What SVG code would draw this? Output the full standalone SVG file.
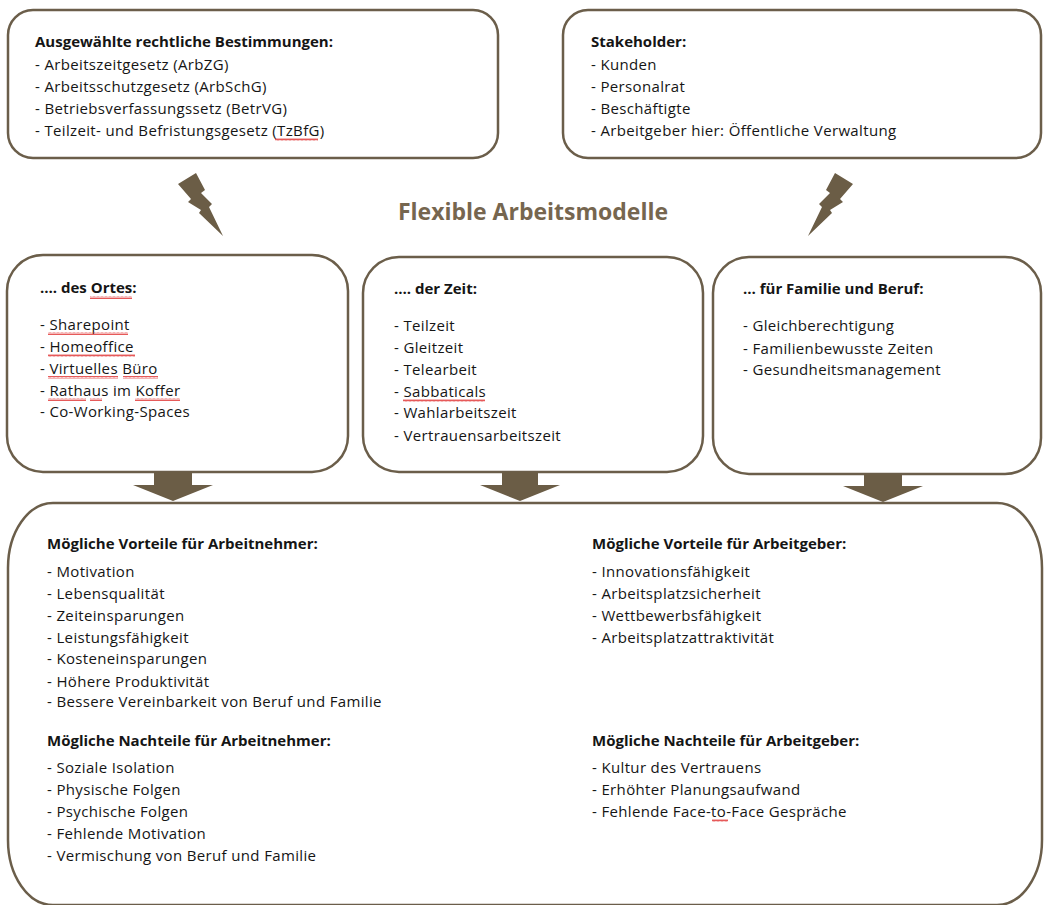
<svg xmlns="http://www.w3.org/2000/svg" width="1044" height="905" viewBox="0 0 1044 905">
<defs>
<style>
.box{fill:#fff;stroke:#6b5e4a;stroke-width:2.5}
.shape{fill:#6b5d46}
text{font-family:"Open Sans","Liberation Sans",sans-serif;font-size:15px;letter-spacing:0.35px;fill:#151515}
.h{font-weight:bold;letter-spacing:0}
.title{font-size:23px;font-weight:bold;letter-spacing:0;fill:#76664f}
.sq{fill:url(#squig)}
</style>
<pattern id="squig" x="0" y="0" width="4" height="3" patternUnits="userSpaceOnUse">
<polyline points="0,2.5 1,0.5 2,2.5 3,0.5 4,2.5" fill="none" stroke="#e03030" stroke-width="0.8"/>
</pattern>
<polygon id="bolt" points="178,184 196,173 205,190 201,193 212,204 209,207 223,236 199,213 201,210 188,202 191,199"/>
</defs>
<rect width="1044" height="905" fill="#fff"/>

<g id="legal">
<rect class="box" x="8" y="10" width="490" height="148" rx="25"/>
<text class="h" x="35" y="47">Ausgewählte rechtliche Bestimmungen:</text>
<text x="35" y="70">- Arbeitszeitgesetz (ArbZG)</text>
<text x="35" y="92">- Arbeitsschutzgesetz (ArbSchG)</text>
<text x="35" y="114">- Betriebsverfassungssetz (BetrVG)</text>
<text x="35" y="136">- Teilzeit- und Befristungsgesetz (TzBfG)</text>
<rect class="sq" x="275" y="138" width="43" height="3"/>
</g>

<g id="stakeholder">
<rect class="box" x="563" y="10" width="478" height="148" rx="25"/>
<text class="h" x="591" y="47">Stakeholder:</text>
<text x="591" y="70">- Kunden</text>
<text x="591" y="92">- Personalrat</text>
<text x="591" y="114">- Beschäftigte</text>
<text x="591" y="136">- Arbeitgeber hier: Öffentliche Verwaltung</text>
</g>

<g id="title">
<text class="title" x="533" y="220" text-anchor="middle">Flexible Arbeitsmodelle</text>
</g>

<g id="ort">
<rect class="box" x="7" y="255" width="341" height="217" rx="36"/>
<text class="h" x="40" y="293">…. des Ortes:</text>
<text x="40" y="330">- Sharepoint</text>
<text x="40" y="352">- Homeoffice</text>
<text x="40" y="374">- Virtuelles Büro</text>
<text x="40" y="396">- Rathaus im Koffer</text>
<text x="40" y="417">- Co-Working-Spaces</text>
<rect class="sq" x="90" y="296" width="42" height="3"/>
<rect class="sq" x="48" y="332" width="80" height="3"/>
<rect class="sq" x="48" y="354" width="87" height="3"/>
<rect class="sq" x="48" y="376" width="70" height="3"/>
<rect class="sq" x="123" y="376" width="35" height="3"/>
<rect class="sq" x="48" y="398" width="38" height="3"/>
<rect class="sq" x="90" y="398" width="12" height="3"/>
<rect class="sq" x="135" y="398" width="45" height="3"/>
</g>

<g id="zeit">
<rect class="box" x="363" y="257" width="340" height="215" rx="36"/>
<text class="h" x="394" y="294">…. der Zeit:</text>
<text x="394" y="331">- Teilzeit</text>
<text x="394" y="353">- Gleitzeit</text>
<text x="394" y="375">- Telearbeit</text>
<text x="394" y="397">- Sabbaticals</text>
<text x="394" y="418">- Wahlarbeitszeit</text>
<text x="394" y="441">- Vertrauensarbeitszeit</text>
<rect class="sq" x="403" y="399" width="82" height="3"/>
</g>

<g id="familie">
<rect class="box" x="713" y="257" width="328" height="217" rx="36"/>
<text class="h" x="743" y="294">… für Familie und Beruf:</text>
<text x="743" y="331">- Gleichberechtigung</text>
<text x="743" y="354">- Familienbewusste Zeiten</text>
<text x="743" y="375">- Gesundheitsmanagement</text>
</g>

<g id="effekte">
<rect class="box" x="8" y="503" width="1034" height="402" rx="45" ry="65"/>
<text class="h" x="47" y="549">Mögliche Vorteile für Arbeitnehmer:</text>
<text x="47" y="577">- Motivation</text>
<text x="47" y="599">- Lebensqualität</text>
<text x="47" y="621">- Zeiteinsparungen</text>
<text x="47" y="643">- Leistungsfähigkeit</text>
<text x="47" y="664">- Kosteneinsparungen</text>
<text x="47" y="687">- Höhere Produktivität</text>
<text x="47" y="707">- Bessere Vereinbarkeit von Beruf und Familie</text>
<text class="h" x="47" y="746">Mögliche Nachteile für Arbeitnehmer:</text>
<text x="47" y="773">- Soziale Isolation</text>
<text x="47" y="795">- Physische Folgen</text>
<text x="47" y="817">- Psychische Folgen</text>
<text x="47" y="839">- Fehlende Motivation</text>
<text x="47" y="861">- Vermischung von Beruf und Familie</text>
<text class="h" x="592" y="549">Mögliche Vorteile für Arbeitgeber:</text>
<text x="592" y="577">- Innovationsfähigkeit</text>
<text x="592" y="599">- Arbeitsplatzsicherheit</text>
<text x="592" y="621">- Wettbewerbsfähigkeit</text>
<text x="592" y="643">- Arbeitsplatzattraktivität</text>
<text class="h" x="592" y="746">Mögliche Nachteile für Arbeitgeber:</text>
<text x="592" y="773">- Kultur des Vertrauens</text>
<text x="592" y="795">- Erhöhter Planungsaufwand</text>
<text x="592" y="817">- Fehlende Face-to-Face Gespräche</text>
<rect class="sq" x="712" y="819" width="16" height="3"/>
</g>

<g id="connectors">
<use href="#bolt" class="shape"/>
<use href="#bolt" class="shape" transform="translate(1031,0) scale(-1,1)"/>
<polygon class="shape" points="154,472 192,472 192,485 213,485 173,501 133,485 154,485"/>
<polygon class="shape" points="502,472 538,472 538,485 560,485 520,501 480,485 502,485"/>
<polygon class="shape" points="864,474 902,474 902,486 923,486 883,502 843,486 864,486"/>
</g>
</svg>
